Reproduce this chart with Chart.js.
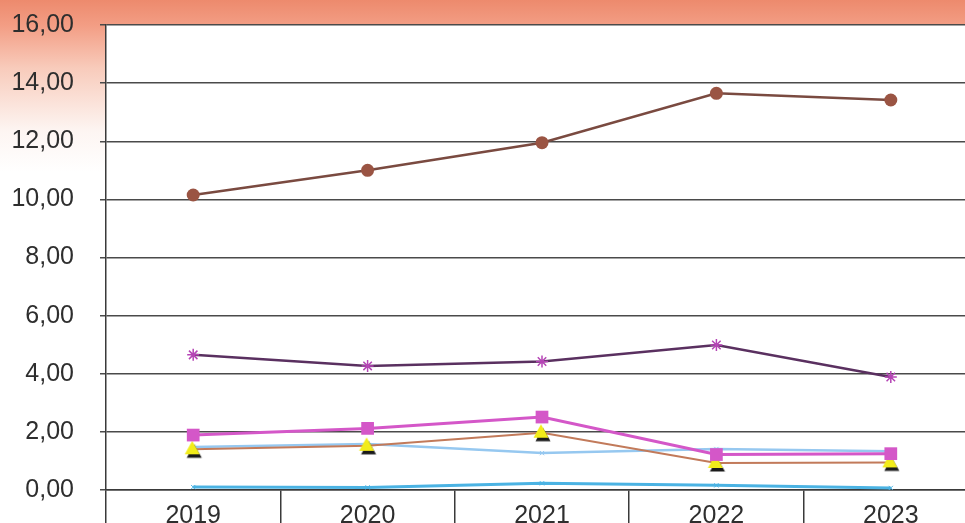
<!DOCTYPE html>
<html>
<head>
<meta charset="utf-8">
<script src="https://cdn.jsdelivr.net/npm/chart.js@4/dist/chart.umd.min.js"></script>
<style>
html,body{margin:0;padding:0;overflow:hidden;background:#fff;}
canvas{display:block;}
</style>
</head>
<body>
<canvas id="c" width="988" height="523" style="width:988px;height:523px;"></canvas>
<script>
const years = ["2019", "2020", "2021", "2022", "2023"];
const seriesBrown = [10.15, 11.00, 11.95, 13.65, 13.42];
const seriesStar = [4.65, 4.27, 4.42, 4.99, 3.89];
const seriesSquare = [1.89, 2.12, 2.51, 1.22, 1.25];
const seriesTriangle = [1.40, 1.52, 1.97, 0.93, 0.95];
const seriesLightBlue = [1.48, 1.58, 1.27, 1.41, 1.33];
const seriesCyan = [0.10, 0.09, 0.23, 0.16, 0.07];
const yTicks = [0, 2, 4, 6, 8, 10, 12, 14, 16];

function triangleImg() {
  const c = document.createElement('canvas');
  c.width = 20; c.height = 20;
  const g = c.getContext('2d');
  g.fillStyle = '#1a1a1a';
  g.beginPath(); g.moveTo(11, 5); g.lineTo(18.5, 18.5); g.lineTo(3.5, 18.5); g.closePath(); g.fill();
  g.fillStyle = '#f2ec1a';
  g.beginPath(); g.moveTo(9, 1.5); g.lineTo(16.5, 15); g.lineTo(1.5, 15); g.closePath(); g.fill();
  return c;
}

const bgPlugin = {
  id: 'bg',
  beforeDraw(chart) {
    const ctx = chart.ctx, w = chart.width, h = chart.height, a = chart.chartArea;
    ctx.save();
    const gr = ctx.createLinearGradient(0, 0, 0, h);
    gr.addColorStop(0, '#ed8a6d');
    gr.addColorStop(0.05, '#f39e85');
    gr.addColorStop(0.13, '#f8cbbb');
    gr.addColorStop(0.25, '#fdf5f2');
    gr.addColorStop(0.33, '#ffffff');
    gr.addColorStop(1, '#ffffff');
    ctx.fillStyle = gr;
    ctx.fillRect(0, 0, w, h);
    ctx.fillStyle = '#ffffff';
    ctx.fillRect(a.left, a.top, a.right - a.left, h - a.top);
    ctx.restore();
  }
};

function noPad(s) {
  s.paddingTop = 0; s.paddingBottom = 0; s.paddingLeft = 0; s.paddingRight = 0;
}

new Chart(document.getElementById('c'), {
  type: 'line',
  data: {
    labels: years,
    datasets: [
      { data: seriesBrown, borderColor: '#7a4a40', borderWidth: 2.5, backgroundColor: '#9a5443',
        pointStyle: 'circle', pointRadius: 6.5, pointBorderWidth: 0, tension: 0 },
      { data: seriesStar, borderColor: '#5a3060', borderWidth: 2.5, backgroundColor: '#b545b5',
        pointBorderColor: '#b545b5', pointStyle: 'star', pointRadius: 6, pointBorderWidth: 1.5, tension: 0 },
      { data: seriesSquare, borderColor: '#d457c8', borderWidth: 3, backgroundColor: '#d457c8',
        pointStyle: 'rect', pointRadius: 9, pointBorderWidth: 0, tension: 0 },
      { data: seriesTriangle, borderColor: '#c27a5a', borderWidth: 2, backgroundColor: '#f2ec1a',
        pointStyle: triangleImg(), pointRadius: 8, tension: 0 },
      { data: seriesLightBlue, borderColor: '#96c8f0', borderWidth: 2.5, backgroundColor: '#96c8f0',
        pointBorderColor: '#96c8f0', pointStyle: 'crossRot', pointRadius: 3, pointBorderWidth: 1, tension: 0 },
      { data: seriesCyan, borderColor: '#4bb3e3', borderWidth: 3, backgroundColor: '#4bb3e3',
        pointBorderColor: '#4bb3e3', pointStyle: 'crossRot', pointRadius: 3, pointBorderWidth: 1, tension: 0 }
    ]
  },
  options: {
    responsive: false,
    animation: false,
    devicePixelRatio: 1,
    layout: { padding: { top: 25, right: 0, left: 0, bottom: 0 } },
    plugins: { legend: { display: false }, tooltip: { enabled: false } },
    scales: {
      x: {
        offset: true,
        grid: { offset: true, drawOnChartArea: false, drawTicks: true, tickLength: 33, color: '#3a3a3a', lineWidth: 1.5 },
        border: { display: true, color: '#3a3a3a', width: 1.5 },
        ticks: { padding: -22, color: '#2e2e2e', font: { family: 'Liberation Sans', size: 25 }, maxRotation: 0 },
        afterFit(s) { s.height = 33; noPad(s); }
      },
      y: {
        min: 0, max: 16,
        afterBuildTicks(s) { s.ticks = yTicks.map(v => ({ value: v })); },
        grid: { color: '#4a4a4a', lineWidth: 1.5, tickLength: 6 },
        border: { display: true, color: '#3a3a3a', width: 1.5 },
        ticks: { padding: 26, color: '#2e2e2e', font: { family: 'Liberation Sans', size: 25 },
          callback: v => v.toFixed(2).replace('.', ',') },
        afterFit(s) { s.width = 106; noPad(s); }
      }
    }
  },
  plugins: [bgPlugin]
});
</script>
</body>
</html>
